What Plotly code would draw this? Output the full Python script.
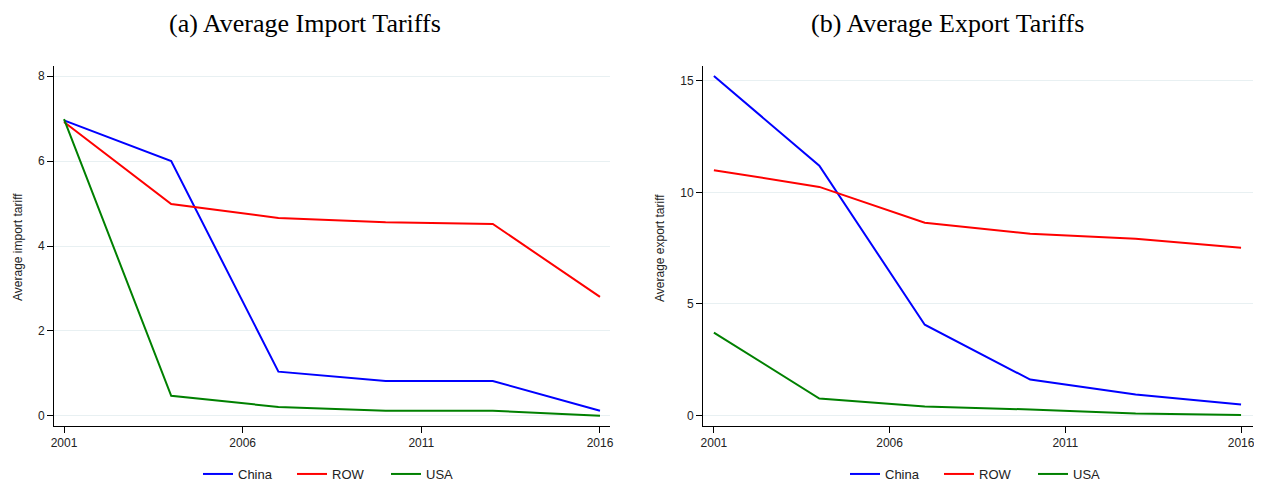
import plotly.graph_objects as go

years = [2001, 2004, 2007, 2010, 2013, 2016]
series = ["China", "ROW", "USA"]
colors = {"China": "#0000ff", "ROW": "#ff0000", "USA": "#008000"}

import_china = [6.96, 6.0, 1.04, 0.82, 0.82, 0.12]
import_row = [6.92, 4.99, 4.66, 4.56, 4.52, 2.8]
import_usa = [6.99, 0.47, 0.21, 0.12, 0.12, 0.0]

export_china = [15.22, 11.2, 4.07, 1.61, 0.94, 0.49]
export_row = [11.0, 10.25, 8.64, 8.15, 7.93, 7.52]
export_usa = [3.72, 0.76, 0.40, 0.27, 0.09, 0.02]

x_ticks = [2001, 2006, 2011, 2016]
import_ticks = [0, 2, 4, 6, 8]
export_ticks = [0, 5, 10, 15]

fig = go.Figure()
imp = {"China": import_china, "ROW": import_row, "USA": import_usa}
exp = {"China": export_china, "ROW": export_row, "USA": export_usa}
for s in series:
    fig.add_trace(go.Scatter(x=years, y=imp[s], mode="lines", name=s,
                             line=dict(color=colors[s], width=2),
                             xaxis="x", yaxis="y", legend="legend"))
for s in series:
    fig.add_trace(go.Scatter(x=years, y=exp[s], mode="lines", name=s,
                             line=dict(color=colors[s], width=2),
                             xaxis="x2", yaxis="y2", legend="legend2"))

# page body has an 8px margin; work in screen pixels and offset
OFF = 8
W, H = 1262 - OFF, 483 - OFF


def px(v):
    return (v - OFF) / W


def py(v):
    return 1 - (v - OFF) / H


yd = [py(426), py(66)]
axis_common = dict(showline=True, linecolor="black", linewidth=1, ticks="outside",
                   ticklen=6, tickcolor="black", automargin=False,
                   tickfont=dict(family="Liberation Sans", size=12, color="#222"),
                   zeroline=False)
title_font = dict(family="Liberation Sans", size=12, color="#222")
leg_font = dict(family="Liberation Sans", size=13, color="#222")
fig.update_layout(
    template="none",
    width=W, height=H, margin=dict(l=0, r=0, t=0, b=0, autoexpand=False),
    plot_bgcolor="white", paper_bgcolor="white",
    xaxis=dict(domain=[px(54), px(610)], range=[2000.72, 2016.28], tickvals=x_ticks,
               showgrid=False, anchor="y", **axis_common),
    yaxis=dict(domain=yd, range=[-0.24, 8.24], tickvals=import_ticks, showgrid=True,
               gridcolor="#e8f0f2", gridwidth=1, anchor="x", **axis_common),
    xaxis2=dict(domain=[px(703), px(1253)], range=[2000.69, 2016.34], tickvals=x_ticks,
                showgrid=False, anchor="y2", **axis_common),
    yaxis2=dict(domain=yd, range=[-0.47, 15.67], tickvals=export_ticks, showgrid=True,
                gridcolor="#e8f0f2", gridwidth=1, anchor="x2", **axis_common),
    showlegend=True,
    legend=dict(orientation="h", x=px(339), y=py(474), xanchor="center", yanchor="middle",
                font=leg_font, itemwidth=30, entrywidth=49, entrywidthmode="pixels",
                bgcolor="rgba(0,0,0,0)", borderwidth=0),
    legend2=dict(orientation="h", x=px(986), y=py(474), xanchor="center", yanchor="middle",
                 font=leg_font, itemwidth=30, entrywidth=49, entrywidthmode="pixels",
                 bgcolor="rgba(0,0,0,0)", borderwidth=0),
    annotations=[
        dict(text="(a) Average Import Tariffs", x=px(305), y=py(24), xref="paper", yref="paper",
             showarrow=False, font=dict(family="Liberation Serif", size=26, color="black"),
             xanchor="center", yanchor="middle"),
        dict(text="(b) Average Export Tariffs", x=px(947), y=py(24), xref="paper", yref="paper",
             showarrow=False, font=dict(family="Liberation Serif", size=26, color="black"),
             xanchor="center", yanchor="middle"),
        dict(text="Average import tariff", x=px(18), y=py(247), xref="paper", yref="paper",
             showarrow=False, textangle=-90, font=title_font,
             xanchor="center", yanchor="middle"),
        dict(text="Average export tariff", x=px(660), y=py(248), xref="paper", yref="paper",
             showarrow=False, textangle=-90, font=title_font,
             xanchor="center", yanchor="middle"),
    ],
)
fig.write_html("out.html")
